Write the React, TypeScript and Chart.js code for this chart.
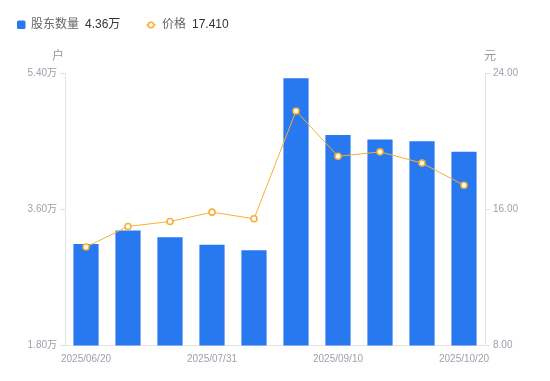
import React, { useEffect, useRef } from "react";
import { Chart, registerables } from "chart.js";

Chart.register(...registerables);

const categories = [
  "2025/06/20", "2025/06/30", "2025/07/18", "2025/07/31", "2025/08/20",
  "2025/08/29", "2025/09/10", "2025/09/19", "2025/09/30", "2025/10/20",
];
const shareholders = [3.14, 3.32, 3.23, 3.13, 3.06, 5.33, 4.58, 4.52, 4.5, 4.36]; // 万户
const prices = [13.78, 14.99, 15.28, 15.83, 15.44, 21.77, 19.11, 19.37, 18.71, 17.41];
const shownLabelIdx = [0, 3, 6, 9];
const leftTicks = [1.8, 3.6, 5.4];
const rightTicks = [8, 16, 24];
const legendShareholders = "4.36万";
const legendPrice = "17.410";

const FONT = "'Liberation Sans', Arial, 'Noto Sans CJK SC', sans-serif";
const BLUE = "#2878F0";
const ORANGE = "#F7B033";
const TICK_COLOR = "#9EA1AC";
const AXIS_COLOR = "#E3E3E6";

const overlay = {
  id: "overlay",
  afterDraw(chart: any) {
    const ctx = chart.ctx as CanvasRenderingContext2D;
    ctx.save();
    // legend: shareholders
    ctx.fillStyle = BLUE;
    ctx.beginPath();
    (ctx as any).roundRect(17, 20.5, 8.5, 8.5, 1.5);
    ctx.fill();
    ctx.font = `12px ${FONT}`;
    ctx.textBaseline = "middle";
    ctx.textAlign = "left";
    ctx.fillStyle = "#666";
    ctx.fillText("股东数量", 31, 25);
    ctx.fillStyle = "#333";
    ctx.fillText(legendShareholders, 85, 25);
    // legend: price
    ctx.strokeStyle = ORANGE;
    ctx.lineWidth = 1;
    ctx.beginPath();
    ctx.moveTo(146, 25);
    ctx.lineTo(156, 25);
    ctx.stroke();
    ctx.beginPath();
    ctx.arc(151, 25, 2.8, 0, Math.PI * 2);
    ctx.fillStyle = "#fff";
    ctx.fill();
    ctx.lineWidth = 1.6;
    ctx.stroke();
    ctx.fillStyle = "#666";
    ctx.fillText("价格", 162, 25);
    ctx.fillStyle = "#333";
    ctx.fillText(legendPrice, 192, 25);
    // axis titles
    ctx.font = `12px ${FONT}`;
    ctx.fillStyle = "#999";
    ctx.textAlign = "center";
    ctx.fillText("户", 58, 57);
    ctx.fillText("元", 490, 57);
    ctx.restore();
  },
};

export default function App() {
  const ref = useRef<HTMLCanvasElement | null>(null);

  useEffect(() => {
    if (!ref.current) return;
    const chart = new Chart(ref.current, {
      data: {
        labels: categories,
        datasets: [
          {
            type: "line",
            label: "价格",
            data: prices,
            yAxisID: "yRight",
            borderColor: ORANGE,
            borderWidth: 1,
            pointRadius: 3,
            pointBorderWidth: 1.6,
            pointBackgroundColor: "#fff",
            pointBorderColor: ORANGE,
            tension: 0,
            order: 0,
          },
          {
            type: "bar",
            label: "股东数量",
            data: shareholders,
            yAxisID: "yLeft",
            backgroundColor: BLUE,
            barPercentage: 0.6,
            categoryPercentage: 1,
            order: 1,
          },
        ],
      } as any,
      options: {
        responsive: false,
        animation: false,
        layout: { padding: { top: 73, left: 0, right: 0, bottom: 0 } },
        plugins: {
          legend: { display: false },
          tooltip: { enabled: false },
        },
        scales: {
          x: {
            grid: { display: false },
            border: { display: true, color: AXIS_COLOR },
            ticks: {
              autoSkip: false,
              maxRotation: 0,
              padding: 0,
              color: TICK_COLOR,
              font: { size: 10, family: FONT },
              callback: (_v: any, i: number) => (shownLabelIdx.includes(i) ? categories[i] : ""),
            },
            afterFit: (s: any) => {
              s.height = 35.5;
            },
          },
          yLeft: {
            position: "left",
            min: 1.8,
            max: 5.4,
            afterBuildTicks: (s: any) => {
              s.ticks = leftTicks.map((v) => ({ value: v }));
            },
            grid: { drawOnChartArea: false, color: AXIS_COLOR, tickLength: 5 },
            border: { display: true, color: AXIS_COLOR },
            ticks: {
              padding: 3,
              color: TICK_COLOR,
              font: { size: 10, family: FONT },
              callback: (v: any) => Number(v).toFixed(2) + "万",
            },
            afterFit: (s: any) => {
              s.width = 65;
            },
          },
          yRight: {
            position: "right",
            min: 8,
            max: 24,
            afterBuildTicks: (s: any) => {
              s.ticks = rightTicks.map((v) => ({ value: v }));
            },
            grid: { drawOnChartArea: false, color: AXIS_COLOR, tickLength: 5 },
            border: { display: true, color: AXIS_COLOR },
            ticks: {
              padding: 3,
              color: TICK_COLOR,
              font: { size: 10, family: FONT },
              callback: (v: any) => Number(v).toFixed(2),
            },
            afterFit: (s: any) => {
              s.width = 65;
            },
          },
        },
      } as any,
      plugins: [overlay],
    });
    return () => chart.destroy();
  }, []);

  return (
    <div style={{ position: "absolute", left: 0, top: 0, width: 550, height: 381, background: "#fff" }}>
      <canvas ref={ref} width={550} height={381} style={{ display: "block" }} />
    </div>
  );
}
